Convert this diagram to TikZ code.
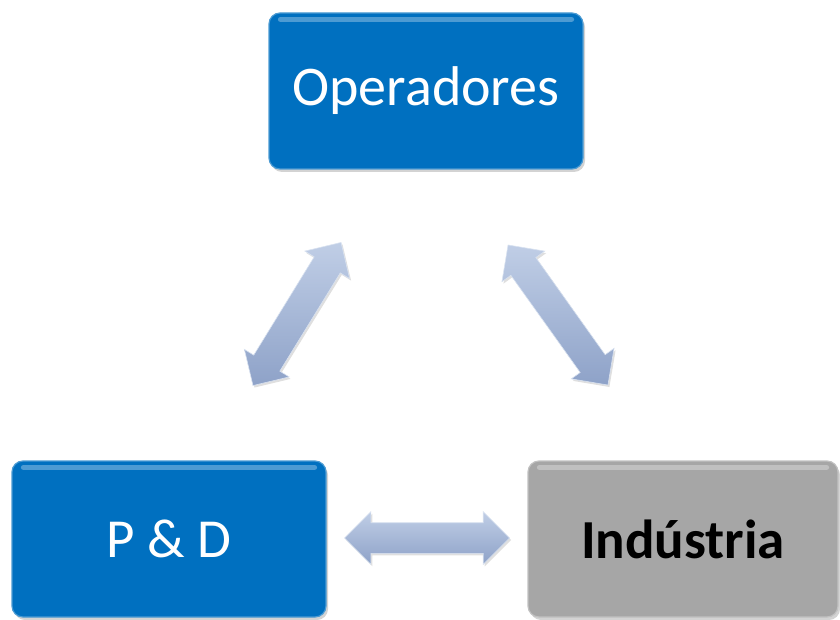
\documentclass[tikz,border=0pt]{standalone}
\usepackage{fontspec}
\setmainfont{Carlito}
\usepackage{tikz}
\usetikzlibrary{shapes.arrows,shadows}

\definecolor{boxblue}{RGB}{0,112,192}
\definecolor{boxgray}{RGB}{166,166,166}
\definecolor{arrtop}{RGB}{192,206,230}
\definecolor{arrbot}{RGB}{142,162,200}

\tikzset{
	box/.style={draw=#1!70!white, line width=1.2pt, fill=#1, rounded corners=11pt, minimum width=314pt, minimum height=156pt, inner sep=0pt,
		drop shadow={shadow xshift=2pt, shadow yshift=-3pt, opacity=0.35}},
	gloss/.style={white, opacity=0.3, line width=5pt, line cap=round},
	dblarrow/.style={double arrow, double arrow head extend=11pt, double arrow tip angle=90, inner xsep=0pt, inner ysep=15pt,
		top color=arrtop, bottom color=arrbot, draw=arrtop!60!white, line width=0.6pt,
		drop shadow={shadow xshift=1.5pt, shadow yshift=-2pt, opacity=0.25}}
}

\begin{document}
\begin{tikzpicture}[x=1pt, y=-1pt]
	\useasboundingbox (0,0) rectangle (840,620);

	%Boxes
	\node[box=boxblue, text=white] (ops) at (426,91) {\fontsize{56}{62}\selectfont Operadores};
	\node[box=boxblue, text=white] (pd) at (169,539) {\fontsize{55}{62}\selectfont P \& D};
	\node[box=boxgray, text=black, minimum width=310pt] (ind) at (683,539) {\fontsize{55}{62}\selectfont\bfseries Indústria};

	%Gloss on top edges
	\draw[gloss] ([xshift=12pt,yshift=-7pt]ops.north west) -- ([xshift=-12pt,yshift=-7pt]ops.north east);
	\draw[gloss] ([xshift=12pt,yshift=-7pt]pd.north west) -- ([xshift=-12pt,yshift=-7pt]pd.north east);
	\draw[gloss] ([xshift=12pt,yshift=-7pt]ind.north west) -- ([xshift=-12pt,yshift=-7pt]ind.north east);

	%Arrows
	\node[dblarrow, minimum height=168pt, rotate=58.4] (arrL) at (297,314) {};
	\node[dblarrow, minimum height=172pt, rotate=-54.5] (arrR) at (558,315) {};
	\node[dblarrow, minimum height=165pt] (arrB) at (427,538) {};

\end{tikzpicture}
\end{document}
